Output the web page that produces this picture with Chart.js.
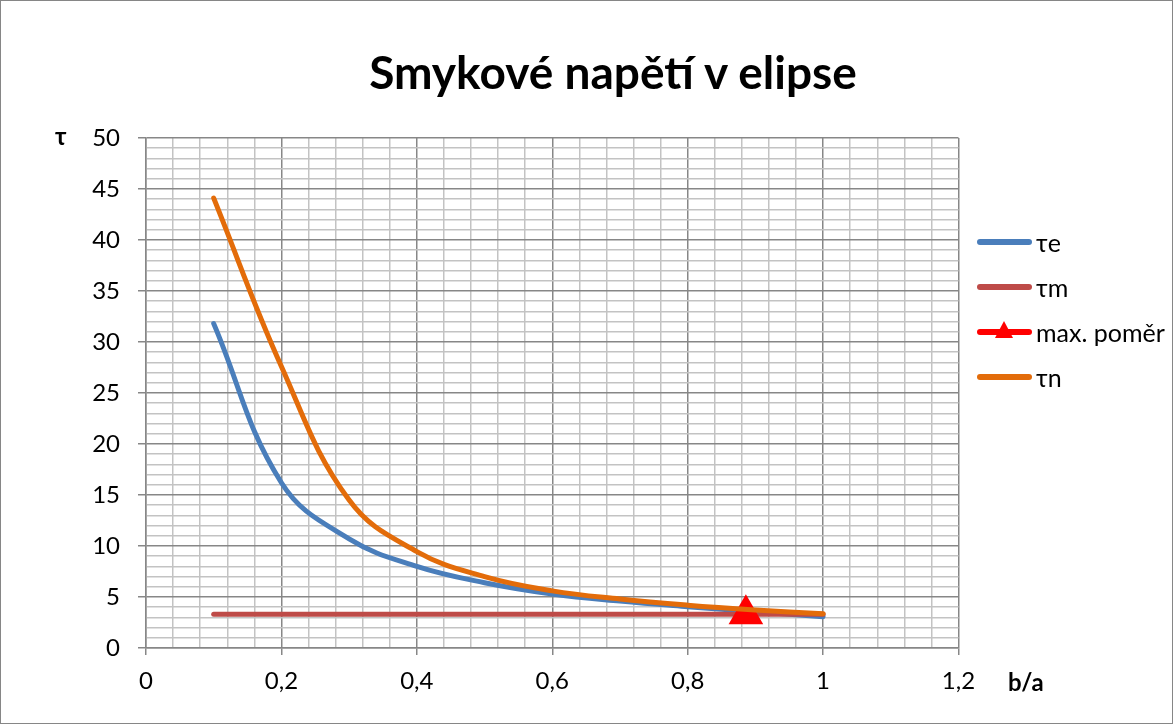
<!DOCTYPE html>
<html>
<head>
<meta charset="utf-8">
<script src="https://cdn.jsdelivr.net/npm/chart.js@4.4.1/dist/chart.umd.min.js"></script>
<style>
  html,body{margin:0;padding:0;background:#fff;}
  #wrap{position:relative;width:1173px;height:724px;font-family:Lato,"Open Sans","Noto Sans",sans-serif;color:#000;}
  #chart{position:absolute;left:0;top:0;}
  #frame{position:absolute;left:0;top:0;width:1173px;height:724px;box-sizing:border-box;border:1px solid #868686;pointer-events:none;}
  .lbl{position:absolute;font-weight:bold;white-space:nowrap;line-height:1;}
  #title{left:313px;width:600px;top:49px;text-align:center;font-size:46px;}
  #yTitle{left:55px;top:124px;font-size:24px;}
  #xTitle{left:1008px;top:670px;font-size:24px;}
  #legend{position:absolute;left:977px;top:219px;width:190px;white-space:nowrap;}
  #legend .item{height:45px;display:flex;align-items:center;font-size:25px;}
  #legend .swatch{position:relative;width:55px;height:6px;border-radius:3px;margin-right:4px;flex:none;}
  #legend .tri{position:absolute;left:18px;top:-8px;width:0;height:0;border-left:9px solid transparent;border-right:9px solid transparent;border-bottom:17px solid #ff0000;}
</style>
</head>
<body>
<div id="wrap">
  <canvas id="chart" width="1173" height="724"></canvas>
  <div id="title" class="lbl">Smykové napětí v elipse</div>
  <div id="yTitle" class="lbl">τ</div>
  <div id="xTitle" class="lbl">b/a</div>
  <div id="legend"></div>
  <div id="frame"></div>
</div>
<script>
// b/a ratios and stresses
const RATIO = [0.1, 0.2, 0.3, 0.4, 0.5, 0.6, 0.7, 0.8, 0.9, 1.0];
const TAU_E = [31.8, 16.2, 10.7, 8.0, 6.4, 5.3, 4.6, 4.05, 3.56, 3.07];
const TAU_M = [3.3, 3.3, 3.3, 3.3, 3.3, 3.3, 3.3, 3.3, 3.3, 3.3];
const TAU_N = [44.1, 27.6, 14.5, 9.45, 7.0, 5.6, 4.8, 4.2, 3.73, 3.35];
const MAX_RATIO_X = [0.886];
const MAX_RATIO_Y = [3.3];
const NAMES = ["τe", "τm", "max. poměr", "τn"];

const X_MIN = 0, X_MAX = 1.2, X_STEP = 0.04;
const Y_MIN = 0, Y_MAX = 50, Y_STEP = 1;
const MAJOR_EVERY = 5;

const COL_E = "#4a7ebb", COL_M = "#be4b48", COL_MAX = "#ff0000", COL_N = "#e36c0a";
const GRID_MAJOR = "#878787", GRID_MINOR = "#c3c3c3";
const FONT = 'Lato, "Open Sans", "Noto Sans", sans-serif';

function pts(xs, ys) { return xs.map((x, i) => ({ x, y: ys[i] })); }
function fmtTick(v) { return String(+v.toFixed(2)).replace(".", ","); }
function gridColor(c) { return c.index % MAJOR_EVERY === 0 ? GRID_MAJOR : GRID_MINOR; }
function tickColor(c) { return c.index % MAJOR_EVERY === 0 ? GRID_MAJOR : "rgba(0,0,0,0)"; }

Chart.defaults.color = "#000";

const lineDs = (label, data, color, order) => ({
  label, data, order,
  showLine: true, borderColor: color, backgroundColor: color,
  borderWidth: 5, pointRadius: 0, tension: 0.4,
  borderCapStyle: "round", borderJoinStyle: "round"
});

const datasets = [
  lineDs(NAMES[0], pts(RATIO, TAU_E), COL_E, 3),
  lineDs(NAMES[1], pts(RATIO, TAU_M), COL_M, 2),
  {
    label: NAMES[2], data: pts(MAX_RATIO_X, MAX_RATIO_Y), order: 1,
    showLine: false, pointStyle: "triangle", pointRadius: 20,
    backgroundColor: COL_MAX, borderColor: COL_MAX, borderWidth: 0
  },
  lineDs(NAMES[3], pts(RATIO, TAU_N), COL_N, 0)
];

new Chart(document.getElementById("chart"), {
  type: "scatter",
  data: { datasets },
  options: {
    responsive: false, animation: false,
    layout: { padding: { top: 138, right: 214.5, left: 0, bottom: 0 } },
    plugins: { legend: { display: false }, tooltip: { enabled: false }, title: { display: false } },
    scales: {
      x: {
        type: "linear", min: X_MIN, max: X_MAX,
        afterFit: s => { s.height = 76; },
        border: { color: GRID_MAJOR, width: 1.5 },
        grid: { color: gridColor, tickColor: tickColor, lineWidth: 1.5, tickLength: 7 },
        ticks: {
          stepSize: X_STEP, autoSkip: false, maxRotation: 0, padding: 12,
          font: { family: FONT, size: 24 }, color: "#000",
          callback: (v, i) => i % MAJOR_EVERY === 0 ? fmtTick(v) : ""
        }
      },
      y: {
        min: Y_MIN, max: Y_MAX,
        afterFit: s => { s.width = 146; },
        border: { color: GRID_MAJOR, width: 1.5 },
        grid: { color: gridColor, tickColor: tickColor, lineWidth: 1.5, tickLength: 8 },
        ticks: {
          stepSize: Y_STEP, autoSkip: false, padding: 18,
          font: { family: FONT, size: 24 }, color: "#000",
          callback: (v, i) => i % MAJOR_EVERY === 0 ? fmtTick(v) : ""
        }
      }
    }
  }
});

// legend in the sheet's style, built from the datasets
const host = document.getElementById("legend");
datasets.forEach(ds => {
  const row = document.createElement("div");
  row.className = "item";
  const sw = document.createElement("span");
  sw.className = "swatch";
  sw.style.background = ds.borderColor;
  if (ds.pointStyle === "triangle") {
    const t = document.createElement("span");
    t.className = "tri";
    sw.appendChild(t);
  }
  const txt = document.createElement("span");
  txt.textContent = ds.label;
  row.appendChild(sw);
  row.appendChild(txt);
  host.appendChild(row);
});
</script>
</body>
</html>
